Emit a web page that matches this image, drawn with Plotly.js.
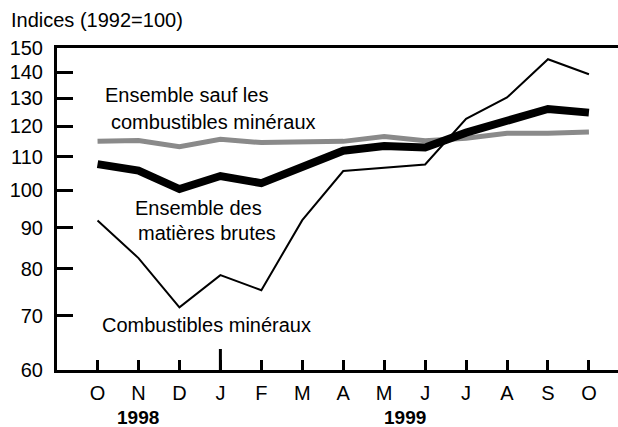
<!DOCTYPE html>
<html>
<head>
<meta charset="utf-8">
<script src="https://cdn.plot.ly/plotly-3.0.1.min.js"></script>
<style>html,body{margin:0;padding:0;background:#fff;}#chart{width:618px;height:427px;}</style>
</head>
<body>
<div id="chart"></div>
<script>
// Month labels, Oct 1998 - Oct 1999
var months = ['O','N','D','J','F','M','A','M','J','J','A','S','O'];
var monthIndex = months.map(function(m, i){ return i; });
// Indices (1992=100)
var ensembleSaufCombustibles = [115.0, 115.3, 113.3, 115.7, 114.6, 114.6, 115.0, 116.6, 115.2, 116.0, 117.7, 117.7, 118.1];
var ensembleMatieresBrutes   = [107.8, 105.8, 100.4, 104.2, 102.1, 107.2, 112.0, 113.5, 113.0, 117.9, 121.6, 126.1, 124.8];
var combustiblesMineraux     = [91.8, 82.5, 71.7, 78.6, 75.3, 91.9, 105.7, 106.7, 107.7, 122.6, 130.3, 145.3, 139.2];
var yTicks = [60, 70, 80, 90, 100, 110, 120, 130, 140, 150];
var years = ['1998', '1999'];
var yearPos = [1, 7.5];

var FONT = 'Liberation Sans, Arial, sans-serif';
var FS = 20;

var traces = [
  {x: monthIndex, y: ensembleSaufCombustibles, type: 'scatter', mode: 'lines',
   line: {color: '#8a8a8a', width: 5}, hoverinfo: 'skip'},
  {x: monthIndex, y: combustiblesMineraux, type: 'scatter', mode: 'lines',
   line: {color: '#000000', width: 2}, hoverinfo: 'skip'},
  {x: monthIndex, y: ensembleMatieresBrutes, type: 'scatter', mode: 'lines',
   line: {color: '#000000', width: 8}, hoverinfo: 'skip'}
];

var L = 57, T = 48, W = 561, H = 322;
function px(x){ return (x - L) / W; }
function py(y){ return (T + H - y) / H; }

var annotations = [
  {text: 'Ensemble sauf les', x: px(103), y: py(95), xanchor: 'left', yanchor: 'middle'},
  {text: 'combustibles minéraux', x: px(109), y: py(122), xanchor: 'left', yanchor: 'middle'},
  {text: 'Ensemble des', x: px(198), y: py(208), xanchor: 'center', yanchor: 'middle'},
  {text: 'matières brutes', x: px(206.5), y: py(233), xanchor: 'center', yanchor: 'middle'},
  {text: 'Combustibles minéraux', x: px(206), y: py(325), xanchor: 'center', yanchor: 'middle'}
].map(function(a){
  a.xref = 'paper'; a.yref = 'paper'; a.showarrow = false;
  a.font = {family: FONT, size: FS, color: '#000'};
  return a;
});
years.forEach(function(yr, i){
  annotations.push({text: '<b>' + yr + '</b>', x: yearPos[i], xref: 'x', y: py(417.5), yref: 'paper',
    xanchor: 'center', yanchor: 'middle', showarrow: false, borderpad: 0,
    font: {family: FONT, size: 19, color: '#000'}});
});

var layout = {
  width: 618, height: 427,
  margin: {l: L, r: 618 - L - W, t: T, b: 427 - T - H, pad: 0},
  paper_bgcolor: '#fff', plot_bgcolor: '#fff',
  showlegend: false,
  title: {text: 'Indices (1992=100)', x: 11/618, xref: 'container', xanchor: 'left',
          y: 1 - 20/427, yref: 'container', yanchor: 'middle',
          font: {family: FONT, size: FS, color: '#000'}},
  xaxis: {
    range: [-0.99, 12.71], tickvals: monthIndex, ticktext: months,
    ticks: 'inside', ticklen: 10, tickwidth: 3, tickcolor: '#000',
    showline: true, linewidth: 3, linecolor: '#000', mirror: true,
    showgrid: false, zeroline: false, ticklabelstandoff: 3,
    tickfont: {family: FONT, size: FS, color: '#000'}
  },
  yaxis: {
    type: 'log', range: [Math.log10(60), Math.log10(150)],
    tickvals: yTicks, ticktext: yTicks.map(String),
    ticks: 'inside', ticklen: 16, tickwidth: 3, tickcolor: '#000',
    showline: true, linewidth: 3, linecolor: '#000', mirror: false,
    showgrid: false, zeroline: false, ticklabelstandoff: 7,
    tickfont: {family: FONT, size: FS, color: '#000'}
  },
  yaxis2: {
    type: 'log', range: [Math.log10(60), Math.log10(150)], overlaying: 'y', side: 'right',
    tickvals: yTicks.slice(1, -1), ticks: 'inside', ticklen: 3, tickwidth: 3, tickcolor: '#000',
    showticklabels: false, showline: false, showgrid: false, zeroline: false
  },
  shapes: [
    {type: 'line', xref: 'x', yref: 'paper', x0: 3, x1: 3, y0: 0, y1: 21/H,
     line: {color: '#000', width: 3}}
  ],
  annotations: annotations
};

Plotly.newPlot('chart', traces, layout, {displayModeBar: false, staticPlot: true});
</script>
</body>
</html>
